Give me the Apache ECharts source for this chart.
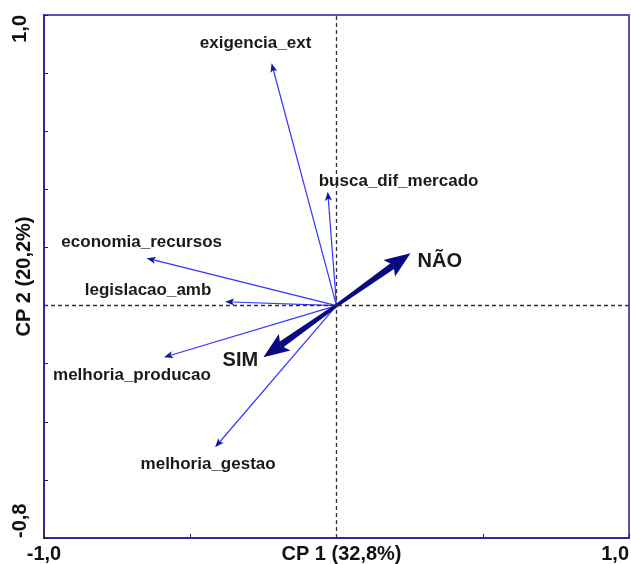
<!DOCTYPE html>
<html>
<head>
<meta charset="utf-8">
<script src="https://cdn.jsdelivr.net/npm/echarts@6/dist/echarts.min.js"></script>
<style>html,body{margin:0;padding:0;background:#fff}#chart{width:631px;height:564px}</style>
</head>
<body>
<div id="chart"></div>
<script>
// ---- data ----
const variables = ['exigencia_ext', 'busca_dif_mercado', 'economia_recursos', 'legislacao_amb', 'melhoria_producao', 'melhoria_gestao'];
const varCp1 = [-0.222, -0.030, -0.649, -0.381, -0.590, -0.415];
const varCp2 = [0.834, 0.392, 0.163, 0.013, -0.178, -0.488];
const groups = ['NÃO', 'SIM'];
const groupCp1 = [0.253, -0.250];
const groupCp2 = [0.180, -0.178];
const xTickLabels = { '-1': '-1,0', '1': '1,0' };
const yTickLabels = { '-0.8': '-0,8', '1': '1,0' };
const xName = 'CP 1 (32,8%)';
const yName = 'CP 2 (20,2%)';

// ---- styles (label offsets in pixels relative to arrow tip) ----
const varLabelStyle = [
  { dx: -16, dy: -20, align: 'center' },
  { dx: -9, dy: -10, align: 'left' },
  { dx: -5, dy: -16, align: 'center' },
  { dx: -77, dy: -11, align: 'center' },
  { dx: -32, dy: 18, align: 'center' },
  { dx: -7, dy: 17, align: 'center' }
];
const groupLabelStyle = [
  { dx: 7, dy: 8, align: 'left' },
  { dx: -23, dy: 3, align: 'center' }
];
const FONT = 'Arial, "Liberation Sans", sans-serif';

function makeArrow(api, style, opts) {
  const o = api.coord([0, 0]);
  const p = api.coord([api.value(0), api.value(1)]);
  const dx = p[0] - o[0], dy = p[1] - o[1];
  const len = Math.hypot(dx, dy) || 1;
  const ux = dx / len, uy = dy / len;
  const nx = -uy, ny = ux;
  const hl = opts.headLen, hw = opts.headWidth;
  const bx = p[0] - ux * hl, by = p[1] - uy * hl;
  const kx = p[0] - ux * hl * opts.notch, ky = p[1] - uy * hl * opts.notch;
  let shaft;
  if (opts.taper) {
    const w0 = opts.taper[0] / 2, w1 = opts.taper[1] / 2;
    shaft = { type: 'polygon', shape: { points: [
      [o[0] + nx * w0, o[1] + ny * w0], [kx + nx * w1, ky + ny * w1],
      [kx - nx * w1, ky - ny * w1], [o[0] - nx * w0, o[1] - ny * w0]] }, style: { fill: opts.lineColor } };
  } else {
    shaft = { type: 'line', shape: { x1: o[0], y1: o[1], x2: kx, y2: ky }, style: { stroke: opts.lineColor, lineWidth: opts.lineWidth } };
  }
  return {
    type: 'group',
    children: [
      shaft,
      { type: 'polygon', shape: { points: [[p[0], p[1]], [bx + nx * hw / 2, by + ny * hw / 2], [kx, ky], [bx - nx * hw / 2, by - ny * hw / 2]] }, style: { fill: opts.headColor } },
      { type: 'text', x: p[0] + style.dx, y: p[1] + style.dy, style: { text: opts.text, font: opts.font, fill: '#1a1a1a', align: style.align, verticalAlign: 'middle' } }
    ]
  };
}

const chart = echarts.init(document.getElementById('chart'), null, { renderer: 'canvas' });
chart.setOption({
  animation: false,
  backgroundColor: '#fff',
  grid: { left: 44, right: 2, top: 15, bottom: 26, containLabel: false, outerBoundsMode: 'none', show: true, borderColor: '#5454b2', borderWidth: 2, backgroundColor: 'transparent' },
  xAxis: {
    type: 'value', min: -1, max: 1, interval: 0.5,
    axisLine: { show: true, onZero: false, lineStyle: { color: '#2a2a9c', width: 2 } },
    axisTick: { show: true, inside: true, length: 4, lineStyle: { color: '#222', width: 1 } },
    splitLine: { show: false },
    axisLabel: {
      show: true, margin: 6, color: '#111', fontFamily: FONT, fontWeight: 'bold', fontSize: 20,
      alignMaxLabel: 'right',
      formatter: v => xTickLabels[String(v)] || ''
    },
    name: xName, nameLocation: 'middle', nameGap: 6, nameMoveOverlap: false,
    nameTextStyle: { color: '#111', fontFamily: FONT, fontWeight: 'bold', fontSize: 20, verticalAlign: 'top', padding: [0, 0, 0, 10] }
  },
  yAxis: {
    type: 'value', min: -0.8, max: 1, interval: 0.2,
    axisLine: { show: true, onZero: false, lineStyle: { color: '#2a2a9c', width: 2 } },
    axisTick: { show: true, inside: true, length: 4, lineStyle: { color: '#222', width: 1 } },
    splitLine: { show: false },
    axisLabel: {
      show: true, rotate: 90, margin: 14, color: '#111', fontFamily: FONT, fontWeight: 'bold', fontSize: 20,
      alignMinLabel: 'left', alignMaxLabel: 'right',
      formatter: v => yTickLabels[String(Math.round(v * 10) / 10)] || ''
    },
    name: yName, nameLocation: 'middle', nameGap: 10, nameRotate: 90, nameMoveOverlap: false,
    nameTextStyle: { color: '#111', fontFamily: FONT, fontWeight: 'bold', fontSize: 20 }
  },
  series: [
    {
      type: 'scatter', data: [], silent: true, z: 1,
      markLine: {
        silent: true, symbol: ['none', 'none'], label: { show: false },
        lineStyle: { color: '#333', type: [4, 3], width: 1.3 },
        data: [{ xAxis: 0 }, { yAxis: 0 }]
      }
    },
    {
      type: 'custom', z: 3, silent: true,
      data: variables.map((n, i) => [varCp1[i], varCp2[i]]),
      renderItem: (params, api) => makeArrow(api, varLabelStyle[params.dataIndex], {
        text: variables[params.dataIndex], font: 'bold 17px ' + FONT,
        lineColor: '#3535ff', lineWidth: 1.2, headColor: '#16169a', headLen: 9, headWidth: 7, notch: 0.78
      })
    },
    {
      type: 'custom', z: 4, silent: true,
      data: groups.map((n, i) => [groupCp1[i], groupCp2[i]]),
      renderItem: (params, api) => makeArrow(api, groupLabelStyle[params.dataIndex], {
        text: groups[params.dataIndex], font: 'bold 20px ' + FONT,
        lineColor: '#0a0a80', taper: [3.5, 7], headColor: '#0a0a80', headLen: 26, headWidth: 20, notch: 0.8
      })
    }
  ]
});
</script>
</body>
</html>
